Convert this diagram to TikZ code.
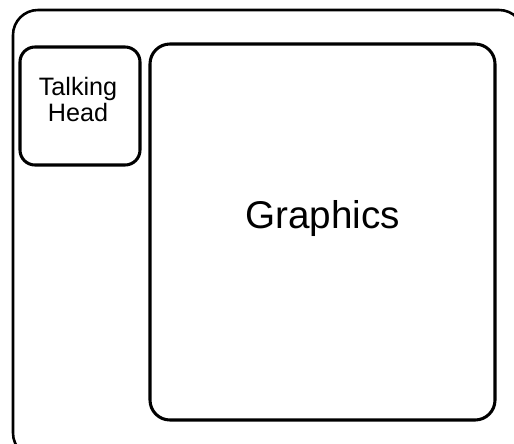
\documentclass[tikz,border=0pt]{standalone}
\usepackage{fontspec}
\setmainfont{Liberation Sans}
\tikzset{
  panel/.style={draw,line width=2.6pt,rounded corners=#1,inner sep=0pt},
  panel/.default=0.45cm,
  frame/.style={line width=2.2pt,rounded corners=0.75cm},
}
\begin{document}
\begin{tikzpicture}[x=0.03cm,y=-0.03cm,line cap=round,line join=round]
  \useasboundingbox (0,0) rectangle (514,443);
  \clip (0,0) rectangle (514,443);
  \draw[frame] (13,10) rectangle (524,458);
  \node[panel,minimum width=3.6cm,minimum height=3.54cm] (head) at (80,106) {};
  \node[align=center,font=\fontsize{21.5}{22.5}\selectfont] (headlabel) at ([xshift=-0.06cm,yshift=0.2cm]head.center) {Talking\\Head};
  \node[panel=0.6cm,minimum width=10.35cm,minimum height=11.28cm] (graphics) at (322.5,232) {};
  \node[font=\fontsize{33}{36}\selectfont] (graphicslabel) at ([yshift=0.42cm]graphics.center) {Graphics};
\end{tikzpicture}
\end{document}
